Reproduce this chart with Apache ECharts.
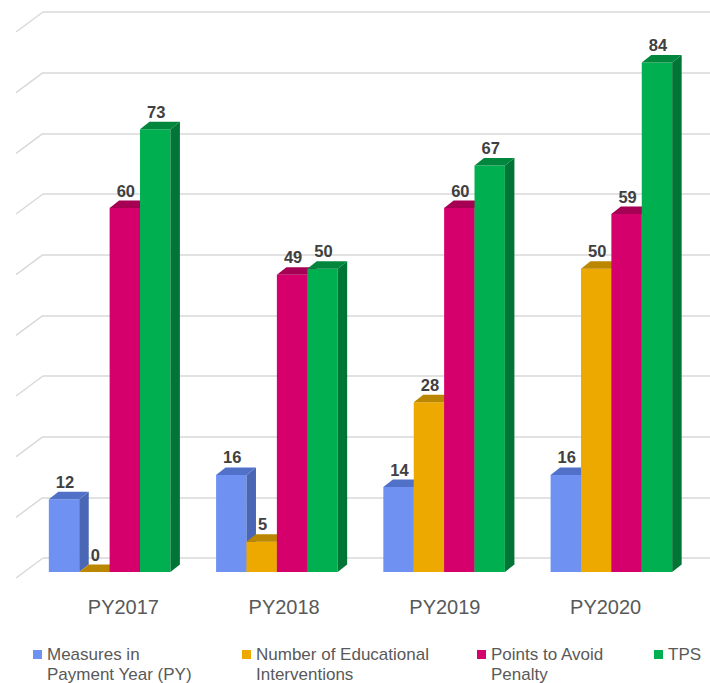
<!DOCTYPE html>
<html><head><meta charset="utf-8">
<script src="https://cdn.jsdelivr.net/npm/echarts@6/dist/echarts.min.js"></script>
<style>html,body{margin:0;padding:0;background:#fff}#c{width:710px;height:683px}</style>
</head><body><div id="c"></div>
<script>
const categories = ['PY2017', 'PY2018', 'PY2019', 'PY2020'];
const measuresPY = [12, 16, 14, 16];
const educational = [0, 5, 28, 50];
const pointsAvoid = [60, 49, 60, 59];
const tps = [73, 50, 67, 84];
const seriesNames = ['Measures in\nPayment Year (PY)', 'Number of Educational\nInterventions', 'Points to Avoid\nPenalty', 'TPS'];
const yTicks = [0, 10, 20, 30, 40, 50, 60, 70, 80, 90];

const palette = [
  { front: '#6E91F2', side: '#4A67B6', top: '#5171C8' },
  { front: '#EDA900', side: '#B27F00', top: '#BB8700' },
  { front: '#D5006B', side: '#9A004E', top: '#A50053' },
  { front: '#00B050', side: '#007535', top: '#00873D' }
];
const FONT = '"Liberation Sans", Arial, sans-serif';

function makeRender(k) {
  return function (params, api) {
    const ci = api.value(0), v = api.value(1);
    const band = api.size([1, 0])[0];
    const w = band * 30.4 / 167.3;
    const base = api.coord([ci, 0]);
    const topP = api.coord([ci, v]);
    const x0 = base[0] - 2 * w + k * w;
    const x1 = x0 + w;
    const yb = base[1], yt = topP[1];
    const dx = 9.5, dy = -7.5;
    const c = palette[k];
    return {
      type: 'group',
      children: [
        { type: 'rect', shape: { x: x0, y: yt, width: w, height: yb - yt }, style: { fill: c.front } },
        { type: 'polygon', shape: { points: [[x1, yb], [x1 + dx, yb + dy], [x1 + dx, yt + dy], [x1, yt]] }, style: { fill: c.side } },
        { type: 'polygon', shape: { points: [[x0, yt], [x1, yt], [x1 + dx, yt + dy], [x0 + dx, yt + dy]] }, style: { fill: c.top } },
        { type: 'text', style: { x: (x0 + x1) / 2 + 1, y: yt - 17.5, text: String(v), align: 'center', verticalAlign: 'middle',
          fill: '#404040', font: 'bold 16.5px ' + FONT } }
      ]
    };
  };
}

const valueSets = [measuresPY, educational, pointsAvoid, tps];
const barSeries = valueSets.map((vals, k) => ({
  type: 'custom',
  name: seriesNames[k],
  xAxisIndex: 1, yAxisIndex: 1,
  itemStyle: { color: palette[k].front },
  renderItem: makeRender(k),
  encode: { x: 0, y: 1 },
  data: vals.map((v, i) => [i, v]),
  silent: true
}));

const wallSeries = {
  type: 'custom',
  xAxisIndex: 0, yAxisIndex: 0,
  silent: true,
  z: 1,
  renderItem: function (params, api) {
    const p = api.coord([0, api.value(1)]);
    return { type: 'line', shape: { x1: p[0], y1: p[1], x2: p[0] - 27, y2: p[1] + 20 },
      style: { stroke: '#D9D9D9', lineWidth: 1.5 } };
  },
  encode: { x: 0, y: 1 },
  data: yTicks.map(v => [0, v])
};

const tallIcon = 'path://M0,0L9,0L9,9L0,9Z M4,29L4.01,29';
const legText = { fontSize: 17, lineHeight: 20, color: '#595959', fontFamily: FONT };
function leg(idx, left, tall) {
  return {
    left: left, top: 644.5, padding: 0, selectedMode: false,
    itemWidth: 9, itemHeight: tall ? 29 : 9, itemGap: 5,
    textStyle: legText,
    data: [{ name: seriesNames[idx], icon: tall ? tallIcon : 'rect' }]
  };
}

const chart = echarts.init(document.getElementById('c'), null, { renderer: 'svg' });
chart.setOption({
  backgroundColor: '#fff',
  animation: false,
  grid: [
    { left: 43, right: 0, top: 12, bottom: 125 },
    { left: 26, width: 669, top: 26, bottom: 111 },
    { left: 43, width: 643, top: 26, bottom: 94 }
  ],
  xAxis: [
    { gridIndex: 0, type: 'value', min: 0, max: 1, show: false },
    { gridIndex: 1, type: 'category', data: categories, show: false },
    { gridIndex: 2, type: 'category', data: categories,
      axisLine: { show: false }, axisTick: { show: false },
      axisLabel: { margin: 8, fontSize: 20, color: '#595959', fontFamily: FONT } }
  ],
  yAxis: [
    { gridIndex: 0, type: 'value', min: 0, max: 90, interval: 10,
      axisLine: { show: false }, axisTick: { show: false }, axisLabel: { show: false },
      splitLine: { show: true, lineStyle: { color: '#D9D9D9', width: 1.5 } } },
    { gridIndex: 1, type: 'value', min: 0, max: 90, interval: 10, show: false },
    { gridIndex: 2, type: 'value', min: 0, max: 90, interval: 10, show: false }
  ],
  legend: [leg(0, 33, true), leg(1, 242, true), leg(2, 477, true), leg(3, 654, false)],
  series: [wallSeries].concat(barSeries)
});
</script>
</body></html>
